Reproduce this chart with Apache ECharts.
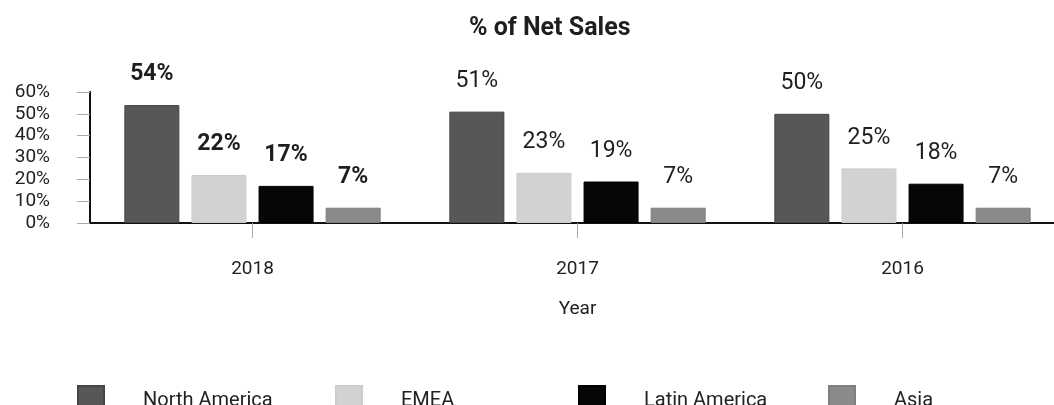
<!DOCTYPE html>
<html>
<head>
<meta charset="utf-8">
<script src="https://cdn.jsdelivr.net/npm/echarts@6/dist/echarts.min.js"></script>
<style>
html,body{margin:0;padding:0;background:#fff;}
#chart{width:1054px;height:405px;}
</style>
</head>
<body>
<div id="chart"></div>
<script>
const years = ['2018', '2017', '2016'];
const seriesNames = ['North America', 'EMEA', 'Latin America', 'Asia'];
const northAmerica = [54, 51, 50];
const emea = [22, 23, 25];
const latinAmerica = [17, 19, 18];
const asia = [7, 7, 7];
const yTicks = [0, 10, 20, 30, 40, 50, 60];

const values = [northAmerica, emea, latinAmerica, asia];
const colors = ['#575757', '#d2d2d2', '#060606', '#8a8a8a'];
const borders = ['#444444', '#cccccc', '#000000', '#7e7e7e'];
const legendLefts = [72, 330, 573, 823];
const FONT = 'Roboto';

const chart = echarts.init(document.getElementById('chart'), null, {renderer: 'canvas'});

const series = values.map((arr, i) => ({
  name: seriesNames[i],
  type: 'bar',
  barWidth: 55,
  barGap: '22%',
  itemStyle: {color: colors[i], borderColor: borders[i], borderWidth: 1},
  label: {
    show: true,
    position: 'top',
    distance: 19,
    fontFamily: FONT,
    fontSize: 23,
    color: '#1e1e1e',
    formatter: p => p.value + '%'
  },
  data: arr.map((v, j) => j === 0 ? {value: v, label: {fontWeight: 'bold'}} : {value: v}),
  animation: false
}));

chart.setOption({
  animation: false,
  title: {
    text: '% of Net Sales',
    left: 464,
    top: 11,
    textStyle: {fontFamily: FONT, fontSize: 25, fontWeight: 'bold', color: '#1e1e1e'}
  },
  legend: seriesNames.map((n, i) => ({
    data: [n],
    left: legendLefts[i],
    top: 380,
    itemWidth: 26,
    itemHeight: 30,
    icon: 'rect',
    selectedMode: false,
    textStyle: {fontFamily: FONT, fontSize: 20, color: '#222', padding: [0, 0, 0, 34]}
  })),
  grid: {left: 90, width: 975, top: 92, height: 131, containLabel: false, outerBoundsMode: 'none'},
  xAxis: {
    type: 'category',
    data: years,
    name: 'Year',
    nameLocation: 'middle',
    nameGap: 77,
    nameTextStyle: {fontFamily: FONT, fontSize: 19, color: '#222'},
    axisLine: {lineStyle: {color: '#111', width: 2}},
    axisTick: {show: true, alignWithLabel: true, length: 15, lineStyle: {color: '#aaa'}},
    axisLabel: {fontFamily: FONT, fontSize: 19, color: '#222', margin: 37}
  },
  yAxis: {
    type: 'value',
    min: yTicks[0],
    max: yTicks[yTicks.length - 1],
    interval: yTicks[1] - yTicks[0],
    axisLine: {show: true, lineStyle: {color: '#111', width: 2}},
    axisTick: {show: true, length: 13, lineStyle: {color: '#aaa'}},
    splitLine: {show: false},
    axisLabel: {fontFamily: FONT, fontSize: 19, color: '#222', margin: 40, formatter: v => v + '%'}
  },
  series: series
});
</script>
</body>
</html>
